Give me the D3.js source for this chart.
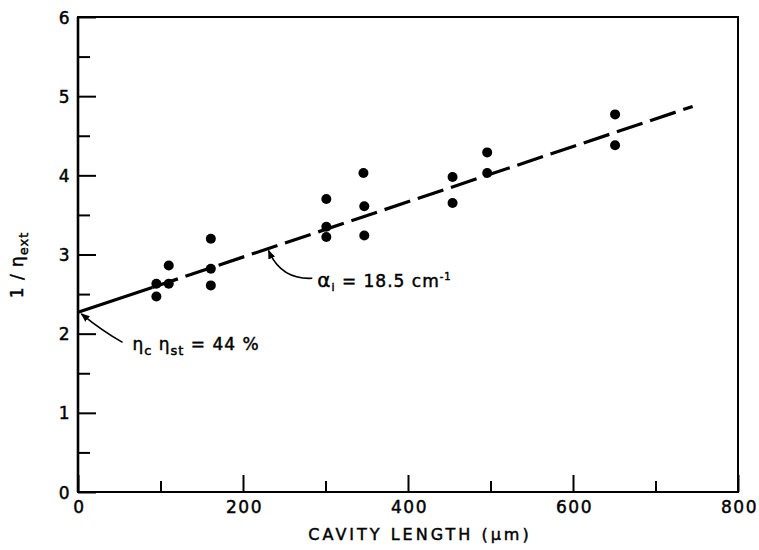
<!DOCTYPE html>
<html>
<head>
<meta charset="utf-8">
<script src="https://cdn.jsdelivr.net/npm/d3@7"></script>
<style>
  html, body { margin: 0; padding: 0; background: #fff; }
  svg { display: block; }
  text { font-family: "DejaVu Sans", sans-serif; fill: #000; stroke: #000; stroke-width: 0.45px; }
</style>
</head>
<body>
<svg id="chart" width="759" height="550"></svg>
<script>
// ---- data ----
const cavityLength = [95, 95, 110, 110, 161, 161, 161, 301, 301, 301, 346, 347, 347, 454, 454, 496, 496, 651, 651];
const invEfficiency = [2.63, 2.47, 2.63, 2.86, 3.20, 2.82, 2.61, 3.70, 3.35, 3.22, 4.03, 3.61, 3.24, 3.98, 3.65, 4.29, 4.03, 4.77, 4.38];
const fitSolidX = [0, 90];
const fitSolidY = [2.27, 2.584];
const fitDashX = [90, 745];
const fitDashY = [2.584, 4.87];
const xTickLabels = [0, 200, 400, 600, 800];
const xMinorTicks = [100, 300, 500, 700];
const yTickLabels = [0, 1, 2, 3, 4, 5, 6];
const yMinorTicks = [0.5, 1.5, 2.5, 3.5, 4.5, 5.5];
const xTitle = "CAVITY LENGTH (\u03bcm)";

// ---- layout ----
const margin = {left: 78, top: 17, right: 21, bottom: 58};
const W = 759, H = 550;
const iw = W - margin.left - margin.right;
const ih = H - margin.top - margin.bottom;

const svg = d3.select("#chart");
const g = svg.append("g").attr("transform", `translate(${margin.left},${margin.top})`);

const x = d3.scaleLinear().domain([0, 800]).range([0, iw]);
const y = d3.scaleLinear().domain([0, 6]).range([ih, 0]);

// frame
g.append("rect").attr("x", 0).attr("y", 0).attr("width", iw).attr("height", ih)
  .attr("fill", "none").attr("stroke", "#000").attr("stroke-width", 2);
g.append("line").attr("x1", 0).attr("x2", 0).attr("y1", 0).attr("y2", ih)
  .attr("stroke", "#000").attr("stroke-width", 2.6);

// x axis major
const xAxis = g.append("g").attr("transform", `translate(0,${ih})`)
  .call(d3.axisBottom(x).tickValues(xTickLabels).tickSize(-17).tickPadding(24).tickFormat(d3.format("d")));
// x minor
g.append("g").attr("transform", `translate(0,${ih})`)
  .call(d3.axisBottom(x).tickValues(xMinorTicks).tickSize(-11).tickFormat(""));
// y axis major
const yAxis = g.append("g")
  .call(d3.axisLeft(y).tickValues(yTickLabels).tickSize(-18).tickPadding(24).tickFormat(d3.format("d")));
// y minor
g.append("g").call(d3.axisLeft(y).tickValues(yMinorTicks).tickSize(-12).tickFormat(""));

g.selectAll(".domain").remove();
g.selectAll(".tick line").attr("stroke", "#000").attr("stroke-width", 2);
g.selectAll(".tick text").style("font-family", '"DejaVu Sans", sans-serif')
  .style("font-size", "17px").style("letter-spacing", "1.5px").attr("fill", "#000");
yAxis.selectAll(".tick text").attr("x", -7).attr("dy", "0.36em");
xAxis.selectAll(".tick text").attr("y", 9).attr("dy", "0.71em").attr("dx", "1px");

// fit line
const line = d3.line().x(d => x(d[0])).y(d => y(d[1]));
g.append("path").datum(d3.zip(fitSolidX, fitSolidY)).attr("d", line)
  .attr("fill", "none").attr("stroke", "#000").attr("stroke-width", 3.2);
g.append("path").datum(d3.zip(fitDashX, fitDashY)).attr("d", line)
  .attr("fill", "none").attr("stroke", "#000").attr("stroke-width", 3.2)
  .attr("stroke-dasharray", "27,8");

// points
g.selectAll("circle.pt").data(d3.zip(cavityLength, invEfficiency)).join("circle")
  .attr("class", "pt").attr("cx", d => x(d[0])).attr("cy", d => y(d[1])).attr("r", 5)
  .attr("fill", "#000");

// arrow marker
svg.append("defs").append("marker").attr("id", "arrow")
  .attr("viewBox", "0 0 10 10").attr("refX", 9).attr("refY", 5)
  .attr("markerWidth", 9).attr("markerHeight", 9).attr("markerUnits", "userSpaceOnUse")
  .attr("orient", "auto")
  .append("path").attr("d", "M0,1 L10,5 L0,9 Z").attr("fill", "#000");

// annotation: alpha_i
const aFrom = [284, 2.70], aCtrl = [246, 2.68], aTo = [231, 3.05];
g.append("path")
  .attr("d", `M${x(aFrom[0])},${y(aFrom[1])} Q${x(aCtrl[0])},${y(aCtrl[1])} ${x(aTo[0])},${y(aTo[1])}`)
  .attr("fill", "none").attr("stroke", "#000").attr("stroke-width", 1.6).attr("marker-end", "url(#arrow)");
const aText = g.append("text").attr("x", x(290)).attr("y", y(2.59))
  .style("font-size", "17px").style("letter-spacing", "1px");
aText.append("tspan").text("\u03b1").style("font-size", "20px");
aText.append("tspan").text("i").attr("dy", 4).style("font-size", "11px");
aText.append("tspan").text(" = 18.5  cm").attr("dy", -4);
aText.append("tspan").text("-1").attr("dy", -7).style("font-size", "10px");

// annotation: eta_c eta_st
const eFrom = [54, 1.89], eCtrl = [30, 2.03], eTo = [4, 2.25];
g.append("path")
  .attr("d", `M${x(eFrom[0])},${y(eFrom[1])} Q${x(eCtrl[0])},${y(eCtrl[1])} ${x(eTo[0])},${y(eTo[1])}`)
  .attr("fill", "none").attr("stroke", "#000").attr("stroke-width", 1.6).attr("marker-end", "url(#arrow)");
const eText = g.append("text").attr("x", x(66)).attr("y", y(1.79))
  .style("font-size", "17px").style("letter-spacing", "1px");
eText.append("tspan").text("\u03b7");
eText.append("tspan").text("c").attr("dy", 5).style("font-size", "13px");
eText.append("tspan").text(" \u03b7").attr("dy", -5);
eText.append("tspan").text("st").attr("dy", 5).style("font-size", "13px");
eText.append("tspan").text(" = 44 %").attr("dy", -5);

// x title
svg.append("text").attr("x", margin.left + iw / 2 + 12).attr("y", 540)
  .attr("text-anchor", "middle").style("font-size", "16px").style("letter-spacing", "3px")
  .text(xTitle);

// y title
const yt = svg.append("text").attr("transform", "translate(23,265) rotate(-90)")
  .attr("text-anchor", "middle").style("font-size", "17px").style("letter-spacing", "1px");
yt.append("tspan").text("1 / \u03b7");
yt.append("tspan").text("ext").attr("dy", 5).style("font-size", "13px");
</script>
</body>
</html>
